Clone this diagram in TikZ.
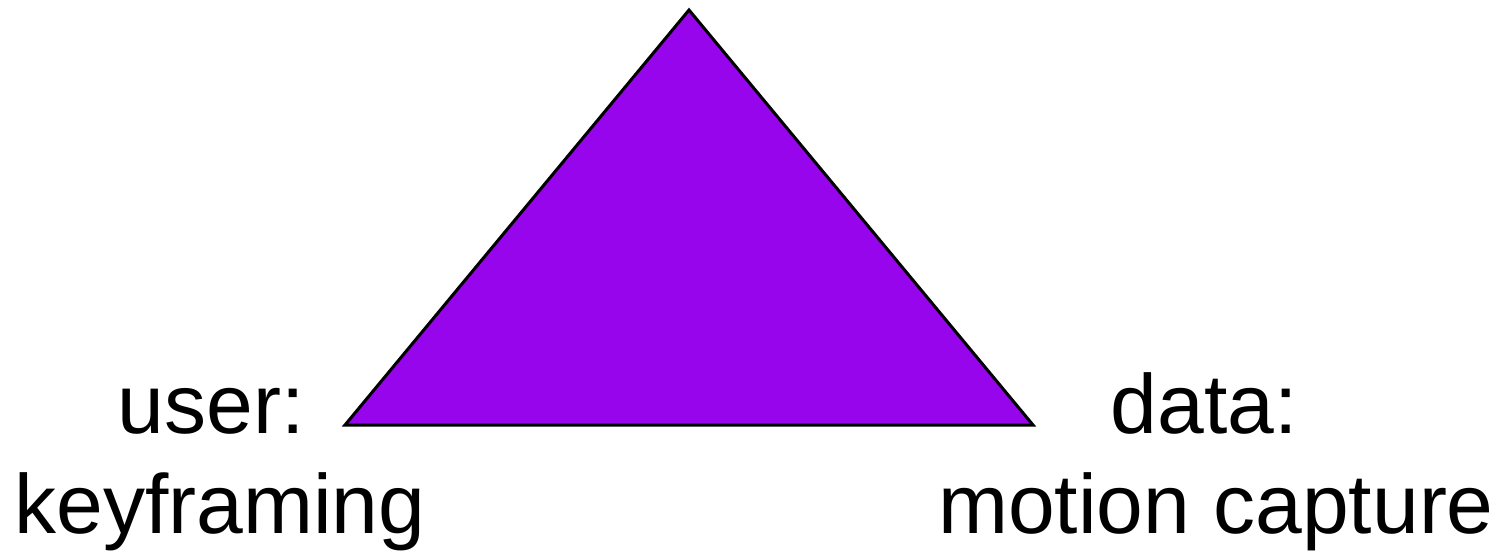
\documentclass[tikz,border=0pt]{standalone}
\usepackage{fontspec}
\setmainfont{Liberation Sans}
\definecolor{tripurple}{RGB}{150,5,235}
\begin{document}
\begin{tikzpicture}[x=0.5pt,y=-0.5pt,
  lbl/.style={anchor=base,inner sep=0pt,font=\fontsize{42}{50}\selectfont}]
\useasboundingbox (0,0) rectangle (1505,552);
\coordinate (apex) at (689,10);
\coordinate (bl) at (345,425);
\coordinate (br) at (1033,425);
\draw[fill=tripurple,line width=1.5pt,line join=miter] (apex) -- (br) -- (bl) -- cycle;
\node[lbl] (user) at (211,433) {user:};
\node[lbl] (key) at (220,533) {keyframing};
\node[lbl] (data) at (1204,433) {data:};
\node[lbl] (mocap) at (1216,533) {motion capture};
\end{tikzpicture}
\end{document}
